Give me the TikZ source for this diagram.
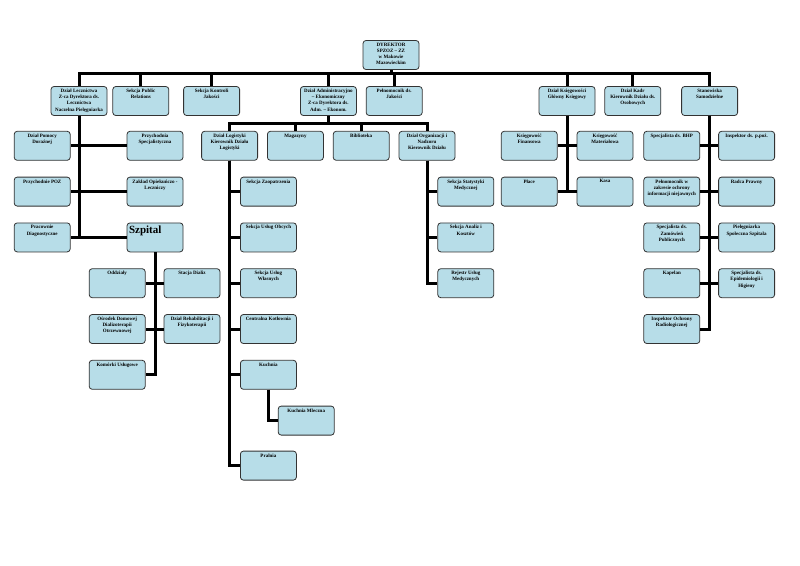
\documentclass[tikz,border=0pt]{standalone}
\usepackage{fontspec}
\setmainfont{Liberation Serif}
\usetikzlibrary{positioning}
\definecolor{boxfill}{HTML}{B7DDE8}
\tikzstyle{pbox}=[rectangle, rounded corners=3pt, draw=black!80, fill=boxfill,
 line width=0.8pt, inner xsep=2pt, inner ysep=2.5pt,
 font=\fontsize{5}{6.2}\selectfont\bfseries]
\tikzstyle{pline}=[-, line width=3pt]
\newcommand{\btxt}[1]{\parbox[c][24pt][t]{52pt}{\centering #1}}

\begin{document}
\begin{tikzpicture}[x=1pt,y=-1pt,node distance=0mm]
\path[use as bounding box, fill=white] (0,0) rectangle (800,565);

\node (DYR) [pbox] at (391,55) {\btxt{DYREKTOR\\ SPZOZ – ZZ\\ w Makowie\\ Mazowieckim}};

% pierwszy poziom
\node (LECZ) [pbox] at (79,101) {\btxt{Dział Lecznictwa\\ Z-ca Dyrektora ds.\\ Lecznictwa\\ Naczelna Pielęgniarka}};
 \draw[pline] (LECZ.north) -- ++(0,-12.5) -| (DYR.south);
\node (PR) [pbox, right=5pt of LECZ] {\btxt{Sekcja Public\\ Relations}};
 \draw[pline] (PR.north) -- ++(0,-12.5) -| (DYR.south);
\node (KJ) [pbox, right=14pt of PR] {\btxt{Sekcja Kontroli\\ Jakości}};
 \draw[pline] (KJ.north) -- ++(0,-12.5) -| (DYR.south);
\node (ADM) [pbox, right=60pt of KJ] {\btxt{Dział Administracyjno\\ – Ekonomiczny\\ Z-ca Dyrektora ds.\\ Adm. – Ekonom.}};
 \draw[pline] (ADM.north) -- ++(0,-12.5) -| (DYR.south);
\node (PJ) [pbox, right=9pt of ADM] {\btxt{Pełnomocnik ds.\\ Jakości}};
 \draw[pline] (PJ.north) -- ++(0,-12.5) -| (DYR.south);
\node (KSIEG) [pbox, right=116pt of PJ] {\btxt{Dział Księgowości\\ Główny Księgowy}};
 \draw[pline] (KSIEG.north) -- ++(0,-12.5) -| (DYR.south);
\node (KADR) [pbox, right=9pt of KSIEG] {\btxt{Dział Kadr\\ Kierownik Działu ds.\\ Osobowych}};
 \draw[pline] (KADR.north) -- ++(0,-12.5) -| (DYR.south);
\node (SAM) [pbox, right=20pt of KADR] {\btxt{Stanowiska\\ Samodzielne}};
 \draw[pline] (SAM.north) -- ++(0,-12.5) -| (DYR.south);

% lecznictwo
\node (PD) [pbox, below left=15pt and -20pt of LECZ] {\btxt{Dział Pomocy\\ Doraźnej}};
 \draw[pline] (LECZ.south) |- (PD.east);
\node (PS) [pbox, right=56pt of PD] {\btxt{Przychodnia\\ Specjalistyczna}};
 \draw[pline] (LECZ.south) |- (PS.west);
\node (POZ) [pbox, below=16pt of PD] {\btxt{Przychodnie POZ}};
 \draw[pline] (LECZ.south) |- (POZ.east);
\node (ZOL) [pbox, below=16pt of PS] {\btxt{Zakład Opiekuńczo -\\ Leczniczy}};
 \draw[pline] (LECZ.south) |- (ZOL.west);
\node (PRAC) [pbox, below=16pt of POZ] {\btxt{Pracownie\\ Diagnostyczne}};
 \draw[pline] (LECZ.south) |- (PRAC.east);
\node (SZP) [pbox, below=16pt of ZOL] {\parbox[c][24pt][t]{52pt}{\raggedright\fontsize{11}{12}\selectfont Szpital}};
 \draw[pline] (LECZ.south) |- (SZP.west);

% szpital
\node (ODD) [pbox, below left=16pt and -19pt of SZP] {\btxt{Oddziały}};
 \draw[pline] (SZP.south) |- (ODD.east);
\node (SD) [pbox, right=18pt of ODD] {\btxt{Stacja Dializ}};
 \draw[pline] (SZP.south) |- (SD.west);
\node (ODR) [pbox, below=16pt of ODD] {\btxt{Ośrodek Domowej\\ Dializoterapii\\ Otrzewnowej}};
 \draw[pline] (SZP.south) |- (ODR.east);
\node (REH) [pbox, below=16pt of SD] {\btxt{Dział Rehabilitacji i\\ Fizykoterapii}};
 \draw[pline] (SZP.south) |- (REH.west);
\node (KOM) [pbox, below=16pt of ODR] {\btxt{Komórki Usługowe}};
 \draw[pline] (SZP.south) |- (KOM.east);

% administracja
\node (LOG) [pbox, below left=15pt and 42pt of ADM] {\btxt{Dział Logistyki\\ Kierownik Działu\\ Logistyki}};
 \draw[pline] (LOG.north) -- ++(0,-7.5) -| (ADM.south);
\node (MAG) [pbox, right=9pt of LOG] {\btxt{Magazyny}};
 \draw[pline] (MAG.north) -- ++(0,-7.5) -| (ADM.south);
\node (BIB) [pbox, right=9pt of MAG] {\btxt{Biblioteka}};
 \draw[pline] (BIB.north) -- ++(0,-7.5) -| (ADM.south);
\node (ORG) [pbox, right=9pt of BIB] {\btxt{Dział Organizacji i\\ Nadzoru\\ Kierownik Działu}};
 \draw[pline] (ORG.north) -- ++(0,-7.5) -| (ADM.south);

% logistyka
\node (ZAO) [pbox, below right=16pt and -18pt of LOG] {\btxt{Sekcja Zaopatrzenia}};
 \draw[pline] (LOG.south) |- (ZAO.west);
\node (UO) [pbox, below=16pt of ZAO] {\btxt{Sekcja Usług Obcych}};
 \draw[pline] (LOG.south) |- (UO.west);
\node (UW) [pbox, below=16pt of UO] {\btxt{Sekcja Usług\\ Własnych}};
 \draw[pline] (LOG.south) |- (UW.west);
\node (KOT) [pbox, below=16pt of UW] {\btxt{Centralna Kotłownia}};
 \draw[pline] (LOG.south) |- (KOT.west);
\node (KUCH) [pbox, below=16pt of KOT] {\btxt{Kuchnia}};
 \draw[pline] (LOG.south) |- (KUCH.west);
\node (KMLECZ) [pbox, below right=16pt and -19pt of KUCH] {\btxt{Kuchnia Mleczna}};
 \draw[pline] (KUCH.south) |- (KMLECZ.west);
\node (PRAL) [pbox, below=61pt of KUCH] {\btxt{Pralnia}};
 \draw[pline] (LOG.south) |- (PRAL.west);

% organizacja i nadzor
\node (STAT) [pbox, below right=16pt and -18pt of ORG] {\btxt{Sekcja Statystyki\\ Medycznej}};
 \draw[pline] (ORG.south) |- (STAT.west);
\node (AK) [pbox, below=16pt of STAT] {\btxt{Sekcja Analiz i\\ Kosztów}};
 \draw[pline] (ORG.south) |- (AK.west);
\node (REJ) [pbox, below=16pt of AK] {\btxt{Rejestr Usług\\ Medycznych}};
 \draw[pline] (ORG.south) |- (REJ.west);

% ksiegowosc
\node (KF) [pbox, below left=15pt and -19pt of KSIEG] {\btxt{Księgowość\\ Finansowa}};
 \draw[pline] (KSIEG.south) |- (KF.east);
\node (KMAT) [pbox, right=19pt of KF] {\btxt{Księgowość\\ Materiałowa}};
 \draw[pline] (KSIEG.south) |- (KMAT.west);
\node (PLACE) [pbox, below=16pt of KF] {\btxt{Płace}};
 \draw[pline] (KSIEG.south) |- (PLACE.east);
\node (KASA) [pbox, below=16pt of KMAT] {\btxt{Kasa}};
 \draw[pline] (KSIEG.south) |- (KASA.west);

% stanowiska samodzielne
\node (BHP) [pbox, below left=15pt and -19pt of SAM] {\btxt{Specjalista ds. BHP}};
 \draw[pline] (SAM.south) |- (BHP.east);
\node (PPOZ) [pbox, right=18pt of BHP] {\btxt{Inspektor ds. p.poż.}};
 \draw[pline] (SAM.south) |- (PPOZ.west);
\node (PELN) [pbox, below=16pt of BHP] {\btxt{Pełnomocnik w\\ zakresie ochrony\\ informacji niejawnych}};
 \draw[pline] (SAM.south) |- (PELN.east);
\node (RADCA) [pbox, below=16pt of PPOZ] {\btxt{Radca Prawny}};
 \draw[pline] (SAM.south) |- (RADCA.west);
\node (ZAM) [pbox, below=16pt of PELN] {\btxt{Specjalista ds.\\ Zamówień\\ Publicznych}};
 \draw[pline] (SAM.south) |- (ZAM.east);
\node (PIEL) [pbox, below=16pt of RADCA] {\btxt{Pielęgniarka\\ Społeczna Szpitala}};
 \draw[pline] (SAM.south) |- (PIEL.west);
\node (KAP) [pbox, below=16pt of ZAM] {\btxt{Kapelan}};
 \draw[pline] (SAM.south) |- (KAP.east);
\node (EPID) [pbox, below=16pt of PIEL] {\btxt{Specjalista ds.\\ Epidemiologii i\\ Higieny}};
 \draw[pline] (SAM.south) |- (EPID.west);
\node (IOR) [pbox, below=16pt of KAP] {\btxt{Inspektor Ochrony\\ Radiologicznej}};
 \draw[pline] (SAM.south) |- (IOR.east);

\end{tikzpicture}
\end{document}
